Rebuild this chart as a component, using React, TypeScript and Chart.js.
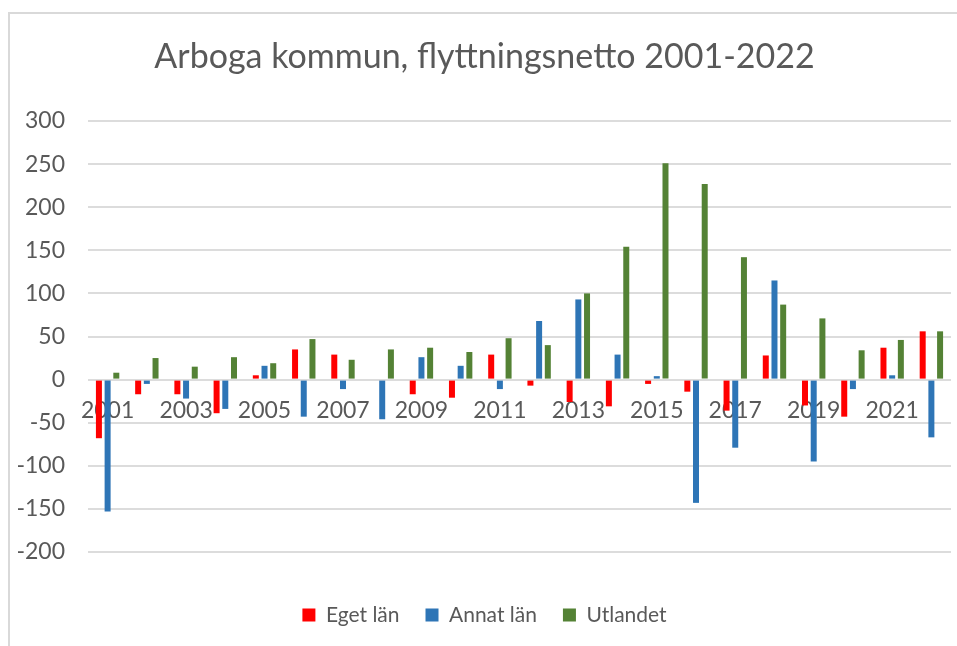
import React, { useEffect, useRef } from "react";
import { Chart, registerables } from "chart.js";

Chart.register(...registerables);

const years = [
  "2001", "2002", "2003", "2004", "2005", "2006", "2007", "2008", "2009", "2010", "2011",
  "2012", "2013", "2014", "2015", "2016", "2017", "2018", "2019", "2020", "2021", "2022",
];
const egetLan = [-68, -17, -17, -39, 5, 35, 29, 0, -17, -21, 29, -7, -26, -31, -5, -14, -36, 28, -30, -43, 37, 56];
const annatLan = [-153, -5, -22, -34, 16, -43, -11, -46, 26, 16, -11, 68, 93, 29, 4, -143, -79, 115, -95, -11, 5, -67];
const utlandet = [8, 25, 15, 26, 19, 47, 23, 35, 37, 32, 48, 40, 100, 154, 251, 227, 142, 87, 71, 34, 46, 56];
const seriesNames = ["Eget län", "Annat län", "Utlandet"];
const titleText = "Arboga kommun, flyttningsnetto 2001-2022";

const FONT = "Lato, 'Open Sans', sans-serif";
const TEXT = "#595959";
const SHIFT = 18;

export default function App() {
  const ref = useRef<HTMLCanvasElement | null>(null);

  useEffect(() => {
    if (!ref.current) return;
    const chart = new Chart(ref.current, {
      type: "bar",
      data: {
        labels: years,
        datasets: [
          { label: seriesNames[0], data: egetLan, backgroundColor: "#FF0000" },
          { label: seriesNames[1], data: annatLan, backgroundColor: "#2E75B6" },
          { label: seriesNames[2], data: utlandet, backgroundColor: "#548235" },
        ],
      },
      options: {
        animation: false,
        responsive: false,
        maintainAspectRatio: false,
        datasets: {
          bar: { categoryPercentage: 0.665, barPercentage: 0.69 },
        },
        layout: { padding: { left: 0, right: 6 + SHIFT, top: 0, bottom: 10.5 } },
        plugins: {
          title: {
            display: true,
            text: titleText,
            color: TEXT,
            font: { family: FONT, size: 34, weight: "normal", lineHeight: 1.2 },
            padding: { top: 36.6, bottom: 43.6 },
          },
          legend: {
            display: true,
            position: "bottom",
            title: { display: true, text: "", font: { size: 1, lineHeight: 1 }, padding: { top: 25.5, bottom: 0 } },
            labels: {
              color: TEXT,
              font: { family: FONT, size: 21 },
              boxWidth: 13,
              boxHeight: 13,
              padding: 26,
            },
          },
          tooltip: { enabled: false },
        },
        scales: {
          x: {
            position: { y: 0 },
            grid: { display: false },
            border: { display: false },
            ticks: {
              color: TEXT,
              font: { family: FONT, size: 23 },
              autoSkip: false,
              maxRotation: 0,
              padding: 9,
              callback: (_v: any, i: number) => (i % 2 === 0 ? years[i] : ""),
            },
          },
          y: {
            min: -200,
            max: 300,
            afterFit: (s: any) => {
              s.width = 88 - SHIFT;
            },
            grid: { color: "#dcdcdc", lineWidth: 2, drawTicks: false },
            border: { display: false },
            ticks: {
              stepSize: 50,
              color: TEXT,
              font: { family: FONT, size: 23 },
              padding: 23,
            },
          },
        },
      },
    });
    return () => chart.destroy();
  }, []);

  return (
    <div style={{ position: "fixed", left: 0, top: 0, width: 957, height: 646, background: "#fff", overflow: "hidden" }}>
      <div
        style={{
          position: "absolute",
          left: 8,
          top: 12,
          width: 980,
          height: 700,
          borderLeft: "2px solid #d9d9d9",
          borderTop: "2px solid #d9d9d9",
        }}
      />
      <canvas ref={ref} width={957} height={646} style={{ position: "absolute", left: SHIFT, top: 0 }} />
    </div>
  );
}
